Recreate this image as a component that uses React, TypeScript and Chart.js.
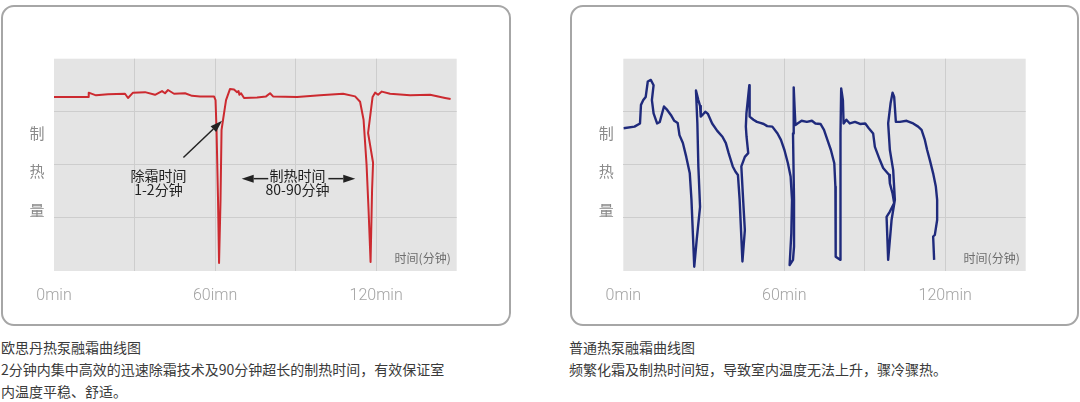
import React, { useEffect, useRef } from "react";
import { Chart, registerables } from "chart.js";

Chart.register(...registerables);

// ---------- data ----------
const xTickValues = [0, 30, 60, 90, 120, 150];
const leftTickLabels = ["0min", "", "60imn", "", "120min", ""];
const rightTickLabels = ["0min", "", "60min", "", "120min", ""];
const yAxisChars = ["制", "热", "量"];
const yAxisCharValues = [2.6, 1.87, 1.15];
const timeUnitLabel = "时间(分钟)";

// 欧思丹 heat pump (red)
const ourMinutes = [0, 12.67, 12.93, 15.65, 20.12, 26.45, 27.57, 29.43, 33.9, 37.63, 40.24, 41.36, 42.47, 44.71, 48.81, 51.42, 54.4, 59.61, 60.17, 60.54, 61.1, 61.48, 62.03, 62.41, 62.97, 64.08, 65.57, 67.06, 68.18, 68.74, 69.04, 69.67, 70.79, 75.63, 78.99, 80.48, 81.59, 90.54, 99.1, 107.67, 112.15, 114.01, 115.31, 116.43, 117.17, 117.92, 118.48, 118.85, 116.99, 118.67, 119.6, 120.72, 122.1, 125.19, 132.64, 140.09, 145.68, 147.73];
const ourOutput = [3.28, 3.28, 3.36, 3.31, 3.33, 3.34, 3.26, 3.36, 3.37, 3.32, 3.39, 3.35, 3.41, 3.34, 3.35, 3.30, 3.29, 3.29, 3.22, 2.66, 1.34, 0.15, 1.34, 2.66, 2.85, 3.22, 3.43, 3.42, 3.37, 3.39, 3.32, 3.35, 3.26, 3.27, 3.29, 3.35, 3.29, 3.28, 3.31, 3.34, 3.29, 3.19, 2.85, 2.00, 1.15, 0.17, 1.53, 2.04, 2.60, 3.28, 3.36, 3.32, 3.38, 3.34, 3.31, 3.32, 3.26, 3.24];

// ordinary heat pump (blue)
const normalMinutes = [0.07, 4.17, 6.22, 6.59, 7.45, 8.35, 9.13, 10.28, 11.29, 10.66, 11.29, 12.59, 13.6, 15.16, 16.43, 17.73, 19.0, 20.27, 20.94, 22.21, 23.47, 24.78, 25.41, 26.45, 27.35, 28.61, 27.98, 27.61, 27.09, 27.98, 28.61, 28.87, 29.51, 30.55, 31.56, 33.12, 35.02, 36.96, 38.23, 39.27, 40.8, 41.84, 42.73, 43.37, 44.41, 45.31, 44.67, 44.0, 45.31, 46.57, 45.94, 45.68, 45.9, 46.98, 47.21, 46.98, 48.51, 49.81, 51.08, 52.35, 53.65, 55.55, 57.49, 58.76, 60.06, 61.36, 62.37, 62.89, 62.63, 62.0, 63.26, 63.64, 63.64, 63.26, 63.52, 63.9, 64.16, 64.94, 66.47, 68.41, 70.31, 71.61, 73.51, 74.81, 76.08, 77.38, 78.65, 79.06, 79.06, 79.28, 80.85, 80.96, 80.96, 81.22, 81.86, 82.12, 83.16, 84.43, 86.36, 88.26, 90.2, 91.5, 93.14, 93.78, 95.64, 96.87, 99.11, 99.37, 100.37, 100.97, 99.37, 98.14, 98.73, 100.0, 101.23, 100.6, 99.37, 98.73, 99.63, 100.37, 100.97, 101.6, 103.09, 105.59, 108.05, 109.91, 111.18, 112.41, 113.26, 114.27, 115.5, 116.5, 116.99, 116.99, 116.13, 115.5, 115.87];
const normalOutput = [2.69, 2.72, 2.78, 3.13, 3.22, 3.28, 3.57, 3.60, 3.50, 3.22, 2.97, 2.78, 2.81, 3.10, 3.03, 2.94, 2.83, 2.79, 2.56, 2.41, 2.15, 1.84, 1.34, 0.08, 0.58, 1.21, 1.97, 2.78, 3.40, 3.22, 3.11, 2.91, 2.94, 3.00, 2.96, 2.78, 2.64, 2.53, 2.41, 2.22, 1.97, 1.87, 1.81, 1.34, 0.18, 0.77, 1.34, 1.97, 2.15, 2.22, 2.53, 2.72, 2.97, 3.50, 3.28, 2.91, 2.85, 2.81, 2.79, 2.77, 2.73, 2.72, 2.59, 2.47, 2.28, 2.03, 1.78, 1.34, 0.71, 0.11, 0.21, 0.46, 1.34, 2.59, 3.46, 3.03, 2.75, 2.78, 2.83, 2.81, 2.83, 2.78, 2.77, 2.66, 2.47, 2.28, 2.03, 1.59, 0.77, 0.27, 0.21, 1.34, 2.59, 3.44, 3.22, 2.78, 2.85, 2.78, 2.81, 2.77, 2.78, 2.69, 2.59, 2.34, 2.09, 1.94, 1.81, 1.65, 1.46, 1.28, 1.12, 1.02, 0.21, 0.96, 1.34, 1.90, 2.28, 2.78, 3.16, 3.36, 3.28, 2.81, 2.81, 2.83, 2.78, 2.72, 2.66, 2.47, 2.28, 2.09, 1.84, 1.59, 1.34, 0.96, 0.68, 0.65, 0.21];

// annotations (data units: minutes / output)
const defrostText = ["除霜时间", "1-2分钟"];
const defrostTextAt = { x: 38.9, y: [1.8, 1.53] };
const defrostArrow = { from: [48.2, 2.14], to: [62.6, 2.83] };
const heatingText = ["制热时间", "80-90分钟"];
const heatingTextAt = { x: 90.7, y: [1.79, 1.536] };
const heatingArrowLeft = { from: [79.8, 1.74], to: [69.9, 1.74] };
const heatingArrowRight = { from: [102.2, 1.74], to: [112.2, 1.74] };

const leftCaption = [
  "欧思丹热泵融霜曲线图",
  "2分钟内集中高效的迅速除霜技术及90分钟超长的制热时间，有效保证室",
  "内温度平稳、舒适。",
];
const rightCaption = ["普通热泵融霜曲线图", "频繁化霜及制热时间短，导致室内温度无法上升，骤冷骤热。"];

// ---------- styles ----------
const CJK = "'Noto Sans CJK SC', 'Noto Sans', sans-serif";
const PLOT_BG = "#e4e4e4";
const GRID = "#cdcdcd";

function drawArrow(ctx: CanvasRenderingContext2D, x1: number, y1: number, x2: number, y2: number) {
  const ang = Math.atan2(y2 - y1, x2 - x1);
  const head = 12;
  const half = 4;
  const bx = x2 - head * Math.cos(ang);
  const by = y2 - head * Math.sin(ang);
  ctx.beginPath();
  ctx.moveTo(x1, y1);
  ctx.lineTo(bx, by);
  ctx.stroke();
  ctx.beginPath();
  ctx.moveTo(x2, y2);
  ctx.lineTo(bx + half * Math.sin(ang), by - half * Math.cos(ang));
  ctx.lineTo(bx - half * Math.sin(ang), by + half * Math.cos(ang));
  ctx.closePath();
  ctx.fill();
}

type PanelProps = {
  xs: number[];
  ys: number[];
  color: string;
  lineWidth: number;
  tickLabels: string[];
  annotate: boolean;
  left: number;
  padLeft: number;
  padRight: number;
};

function Panel({ xs, ys, color, lineWidth, tickLabels, annotate, left, padLeft, padRight }: PanelProps) {
  const ref = useRef<HTMLCanvasElement>(null);
  useEffect(() => {
    const canvas = ref.current!;
    const decor = {
      id: "decor",
      beforeDraw(chart: any) {
        const { ctx, chartArea: a } = chart;
        ctx.save();
        ctx.fillStyle = PLOT_BG;
        ctx.fillRect(a.left, a.top, a.right - a.left, a.bottom - a.top);
        ctx.restore();
      },
      afterDraw(chart: any) {
        const { ctx, chartArea: a } = chart;
        const xS = chart.scales.x;
        const yS = chart.scales.y;
        ctx.save();
        // vertical axis title
        ctx.font = `15px ${CJK}`;
        ctx.fillStyle = "#8a8a8a";
        ctx.textAlign = "center";
        ctx.textBaseline = "middle";
        yAxisChars.forEach((c, i) => {
          ctx.fillText(c, a.left - 17, yS.getPixelForValue(yAxisCharValues[i]));
        });
        // unit label
        ctx.font = `12px ${CJK}`;
        ctx.fillStyle = "#6e6e6e";
        ctx.textAlign = "right";
        ctx.fillText(timeUnitLabel, a.right - 6, a.bottom - 13);
        if (annotate) {
          ctx.font = `14px ${CJK}`;
          ctx.fillStyle = "#222";
          ctx.textAlign = "center";
          defrostText.forEach((t, i) => {
            ctx.fillText(t, xS.getPixelForValue(defrostTextAt.x), yS.getPixelForValue(defrostTextAt.y[i]));
          });
          heatingText.forEach((t, i) => {
            ctx.fillText(t, xS.getPixelForValue(heatingTextAt.x), yS.getPixelForValue(heatingTextAt.y[i]));
          });
          ctx.strokeStyle = "#222";
          ctx.lineWidth = 1.5;
          [defrostArrow, heatingArrowLeft, heatingArrowRight].forEach((ar) => {
            drawArrow(
              ctx,
              xS.getPixelForValue(ar.from[0]),
              yS.getPixelForValue(ar.from[1]),
              xS.getPixelForValue(ar.to[0]),
              yS.getPixelForValue(ar.to[1])
            );
          });
        }
        ctx.restore();
      },
    };
    const hideEdge = (edges: number[]) => (c: any) =>
      c.tick && edges.includes(c.tick.value) ? "rgba(0,0,0,0)" : GRID;
    const chart = new Chart(canvas, {
      type: "scatter",
      data: {
        datasets: [
          {
            data: xs.map((x, i) => ({ x, y: ys[i] })),
            showLine: true,
            borderColor: color,
            borderWidth: lineWidth,
            pointRadius: 0,
            tension: 0,
            borderJoinStyle: "round",
          } as any,
        ],
      },
      options: {
        animation: false,
        responsive: false,
        devicePixelRatio: 1,
        layout: { padding: { left: padLeft, right: padRight, top: 58.7, bottom: 19 } },
        plugins: { legend: { display: false }, tooltip: { enabled: false } },
        scales: {
          x: {
            type: "linear",
            min: 0,
            max: 150,
            afterBuildTicks: (s: any) => {
              s.ticks = xTickValues.map((v) => ({ value: v }));
            },
            afterFit: (s: any) => {
              s.height = 40;
            },
            ticks: {
              callback: (v: any) => tickLabels[xTickValues.indexOf(Number(v))] ?? "",
              font: { family: "Roboto, 'DejaVu Sans', sans-serif", size: 16, weight: "300" },
              color: "#a3a3a3",
              padding: 15,
              maxRotation: 0,
              autoSkip: false,
            },
            grid: { color: hideEdge([0, 150]), lineWidth: 1, drawTicks: false },
            border: { display: false },
          },
          y: {
            min: 0,
            max: 4,
            afterBuildTicks: (s: any) => {
              s.ticks = [0, 1, 2, 3, 4].map((v) => ({ value: v }));
            },
            afterFit: (s: any) => {
              s.width = 0;
            },
            ticks: { display: false },
            grid: { color: hideEdge([0, 4]), lineWidth: 1, drawTicks: false },
            border: { display: false },
          },
        },
      } as any,
      plugins: [decor],
    });
    return () => chart.destroy();
  }, []);
  return (
    <canvas
      ref={ref}
      width={520}
      height={330}
      style={{ position: "absolute", left, top: 0, width: 520, height: 330 }}
    />
  );
}

const boxStyle = (left: number, width: number): React.CSSProperties => ({
  position: "absolute",
  left,
  top: 5,
  width,
  height: 321,
  border: "2px solid #a6a6a6",
  borderRadius: 13,
  boxSizing: "border-box",
  background: "#fff",
});

const captionStyle = (left: number): React.CSSProperties => ({
  position: "absolute",
  left,
  top: 336,
  fontFamily: CJK,
  fontSize: 14,
  lineHeight: "22px",
  color: "#3a3a3a",
  whiteSpace: "nowrap",
});

export default function App() {
  return (
    <div style={{ position: "absolute", left: 0, top: 0, width: 1080, height: 402, background: "#fff", overflow: "hidden" }}>
      <div style={boxStyle(1, 510)} />
      <div style={boxStyle(570, 509)} />
      <Panel xs={ourMinutes} ys={ourOutput} color="#cc2a30" lineWidth={2} tickLabels={leftTickLabels} annotate={true} left={0} padLeft={54} padRight={63.3} />
      <Panel xs={normalMinutes} ys={normalOutput} color="#1f2a7c" lineWidth={2.4} tickLabels={rightTickLabels} annotate={false} left={560} padLeft={63.3} padRight={54.3} />
      <div style={captionStyle(1)}>
        {leftCaption.map((l, i) => (
          <div key={i}>{l}</div>
        ))}
      </div>
      <div style={captionStyle(569)}>
        {rightCaption.map((l, i) => (
          <div key={i}>{l}</div>
        ))}
      </div>
    </div>
  );
}
